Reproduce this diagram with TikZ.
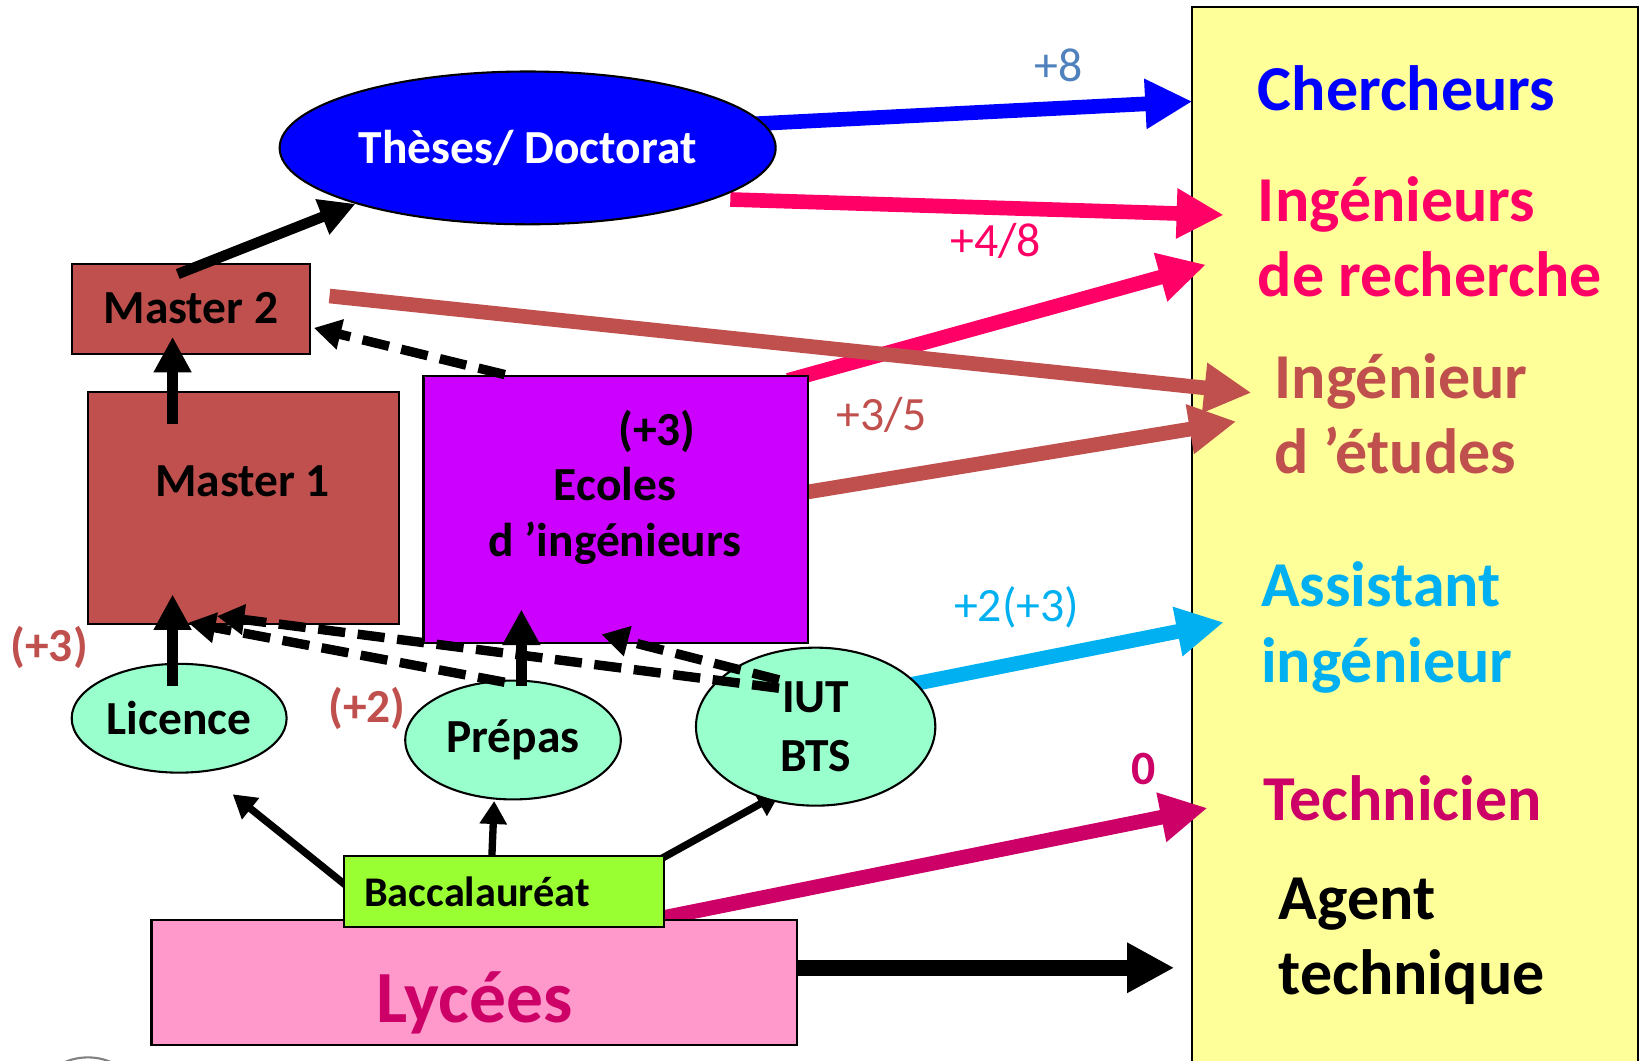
\documentclass[tikz,border=0pt]{standalone}
\usepackage{fontspec}
\setmainfont{Carlito}
\usepackage{tikz}
\usetikzlibrary{shapes.geometric, arrows.meta, backgrounds}
\definecolor{docblue}{HTML}{0000FF}
\definecolor{rosered}{HTML}{FF0066}
\definecolor{brick}{HTML}{C0504D}
\definecolor{skyblue}{HTML}{00B0F0}
\definecolor{crimson}{HTML}{CC0066}
\definecolor{steel}{HTML}{4F81BD}
\definecolor{purplebox}{HTML}{CC00FF}
\definecolor{mint}{HTML}{99FFCC}
\definecolor{bacgreen}{HTML}{99FF33}
\definecolor{lyceepink}{HTML}{FF99CC}
\definecolor{panel}{HTML}{FFFF99}
\tikzset{
    box/.style={
        draw, line width=0.02cm,
        inner sep=0,
        font=\fontsize{12.9}{15}\selectfont\bfseries
    },
    bubble/.style={box, ellipse, fill=mint},
    tag/.style={inner sep=0, font=\fontsize{12.9}{15}\selectfont\bfseries},
    job/.style={anchor=west, inner sep=0, align=left, font=\fontsize{17.4}{20.5}\selectfont\bfseries},
    gain/.style={inner sep=0, font=\fontsize{13}{15}\selectfont},
    flow/.style={-{Triangle[length=0.45cm,width=0.45cm]}, line width=0.14cm},
    climb/.style={-{Triangle[length=0.34cm,width=0.34cm]}, line width=0.1cm},
    feed/.style={-{Triangle[length=0.22cm,width=0.25cm]}, line width=0.07cm},
    bridge/.style={-{Triangle[length=0.26cm,width=0.28cm]}, line width=0.09cm, dash pattern=on 0.26cm off 0.12cm}
}

\begin{document}
\begin{tikzpicture}[x=0.01cm, y=-0.01cm]
\useasboundingbox (0,0) rectangle (1568,1014);

% Studies
\node[bubble, fill=docblue, text=white, minimum width=4.74cm, minimum height=1.46cm] (thesis) at (504.5,141.4) {Thèses/ Doctorat};
\node[box, fill=brick, minimum width=2.28cm, minimum height=0.86cm] (master2) at (182.5,295) {Master 2};
\node[box, fill=brick, minimum width=2.97cm, minimum height=2.22cm] (master1) at (232.5,485.6) {};
\node[tag] (m1label) at (232,460) {Master 1};
\node[box, fill=purplebox, minimum width=3.674cm, minimum height=2.552cm] (ecoles) at (588.7,486.8) {};
\node[tag, align=center] (ecoleslabel) at (588,466) {\hspace*{0.8cm}(+3)\\Ecoles\\d ’ingénieurs};

\node[bubble, minimum width=2.054cm, minimum height=1.04cm] (licence) at (171.3,686.7) {Licence};
\node[bubble, minimum width=2.06cm, minimum height=1.136cm] (prepas) at (490.5,707.5) {Prépas};
\node[bubble, align=center, font=\fontsize{12.9}{16}\selectfont\bfseries,
      minimum width=2.287cm, minimum height=1.51cm] (iut) at (779.85,694.75) {IUT\\BTS};

\node[box, fill=lyceepink, minimum width=6.165cm, minimum height=1.195cm] (lycees) at (453.25,939.3) {};
\node[tag, text=crimson, font=\fontsize{20}{23}\selectfont\bfseries] (lyceeslabel) at (454,959) {Lycées};
\node[box, fill=bacgreen, font=\fontsize{11.5}{14}\selectfont\bfseries,
      minimum width=3.059cm, minimum height=0.676cm,
      text width=2.67cm, inner xsep=0.19cm, align=left] (bac) at (481.85,852.2) {Baccalauréat};

% Jobs
\node[job, text=docblue] (cherch) at (1202,84) {Chercheurs};
\node[job, text=rosered] (ingrech) at (1202,226.5) {Ingénieurs\\de recherche};
\node[job, text=brick] (ingetud) at (1218,395.5) {Ingénieur\\d ’études};
\node[job, text=skyblue] (assist) at (1205,600) {Assistant\\ingénieur};
\node[job, text=crimson] (techn) at (1207,763) {Technicien};
\node[job] (agent) at (1222,900) {Agent\\technique};

% Years
\node[gain, text=steel] (g8) at (1012,62) {+8};
\node[gain, text=rosered] (g48) at (952,230) {+4/8};
\node[gain, text=brick] (g35) at (843,397) {+3/5};
\node[gain, text=skyblue] (g23) at (972,581) {+2(+3)};
\node[gain, text=crimson, font=\fontsize{13}{15}\selectfont\bfseries] (g0) at (1093,735) {0};
\node[gain, text=brick, font=\fontsize{12.9}{15}\selectfont\bfseries] (g3) at (47,619) {(+3)};
\node[gain, text=brick, font=\fontsize{12.9}{15}\selectfont\bfseries] (g2) at (351,677) {(+2)};

\begin{scope}[on background layer]
    \draw[fill=panel, line width=0.02cm] (1140,7) rectangle (1566,1030);
    \draw[gray, line width=0.02cm] (84,1068) circle[radius=0.57cm];

    % Lines to jobs
    \draw[flow, docblue] ([shift={(-15,1)}]thesis.6) -- ([shift={(-62,13)}]cherch.west);
    \draw[flow, rosered] ([shift={(8,3)}]thesis.-14) -- ([shift={(-32,-21)}]ingrech.west);
    \draw[flow, rosered] ([shift={(-20,5.5)}]ecoles.north east) -- ([shift={(-49,26.5)}]ingrech.west);
    \draw[flow, brick] ([shift={(17.5,-12)}]master2.east) -- ([shift={(-21.5,-20)}]ingetud.west);
    \draw[flow, brick] ([shift={(-10,-15)}]ecoles.east) -- ([shift={(-36,7.5)}]ingetud.west);
    \draw[flow, skyblue] ([shift={(-8,3)}]iut.24) -- ([shift={(-35,-5)}]assist.west);
    \draw[flow, crimson] ([shift={(-20,-6)}]bac.south east) -- ([shift={(-52.5,9.5)}]techn.west);
    \draw[flow, line width=0.15cm] ([shift={(-10,-14)}]lycees.east) -- ([shift={(-99.3,25.3)}]agent.west);

    % Lines from bac
    \draw[feed] ([shift={(4.8,-4.2)}]bac.west) -- ([shift={(51.2,19.7)}]licence.south);
    \draw[feed] ([shift={(-11.85,8)}]bac.north) -- ([shift={(-18,0.5)}]prepas.south);
    \draw[feed] ([shift={(-8,6)}]bac.north east) -- ([shift={(-33.85,63.25)}]iut.center);
\end{scope}

% Lines between studies
\draw[climb] ([shift={(-12.5,11)}]master2.north) -- (thesis.198);
\draw[climb] ([shift={(-67.5,31.4)}]master1.north) -- ([shift={(-17.5,-17)}]master2.south);
\draw[climb] ([shift={(-6.3,22)}]licence.north) -- ([shift={(-67.5,-29.4)}]master1.south);
\draw[climb] ([shift={(8,6)}]prepas.north) -- ([shift={(-90.2,-32.8)}]ecoles.south);

\draw[bridge] ([shift={(-106,0)}]ecoles.north) -- ([shift={(2.5,18.5)}]master2.east);
\draw[bridge] ([shift={(-8,2.6)}]prepas.north) -- ([shift={(-52.5,-2.3)}]master1.south);
\draw[bridge] ([shift={(-35,-36.75)}]iut.center) -- ([shift={(-25,-8.6)}]master1.south);
\draw[bridge] ([shift={(-35,-44.75)}]iut.center) -- ([shift={(-13.7,-8.9)}]ecoles.south);

\end{tikzpicture}
\end{document}
